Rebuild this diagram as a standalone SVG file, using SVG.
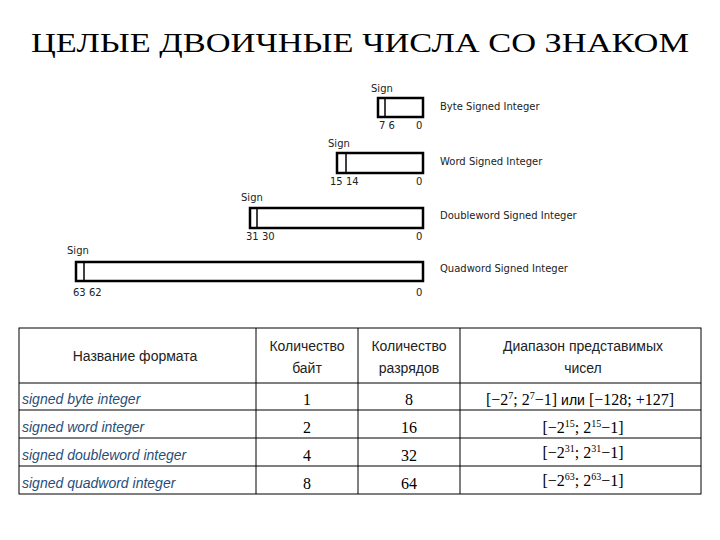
<svg xmlns="http://www.w3.org/2000/svg" width="720" height="540" viewBox="0 0 720 540">
<style>
.t{font-family:"Liberation Serif",serif;font-size:28px}
.s{font-family:"DejaVu Sans",sans-serif;font-size:10px;fill:#222}
.b{fill:#fff;stroke:#000;stroke-width:2.5}
.d{stroke:#000;stroke-width:1.5}
.h{font-family:"Liberation Sans",sans-serif;font-size:14px;fill:#222;text-anchor:middle}
.n{font-family:"Liberation Serif",serif;font-size:16px;text-anchor:middle}
.i{font-family:"Liberation Sans",sans-serif;font-size:14px;font-style:italic;fill:#1f4e79}
.g{stroke:#000;stroke-width:1;fill:none}
</style>
<rect width="720" height="540" fill="#fff"/>
<text class="t" x="360" y="52" text-anchor="middle" textLength="658" lengthAdjust="spacingAndGlyphs">ЦЕЛЫЕ ДВОИЧНЫЕ ЧИСЛА СО ЗНАКОМ</text>
<g id="byte">
<rect class="b" x="378" y="98" width="45" height="19"/><line class="d" x1="385" y1="98" x2="385" y2="117"/>
<text class="s" x="371" y="92">Sign</text><text class="s" x="379" y="129">7 6</text><text class="s" x="416" y="129">0</text>
<text class="s" x="440" y="110">Byte Signed Integer</text></g>
<g id="word">
<rect class="b" x="337" y="153" width="86" height="20"/><line class="d" x1="346" y1="153" x2="346" y2="173"/>
<text class="s" x="328" y="147">Sign</text><text class="s" x="330" y="185">15 14</text><text class="s" x="416" y="185">0</text>
<text class="s" x="440" y="165">Word Signed Integer</text></g>
<g id="dword">
<rect class="b" x="250" y="208" width="173" height="20"/><line class="d" x1="257" y1="208" x2="257" y2="228"/>
<text class="s" x="241" y="201">Sign</text><text class="s" x="246" y="240">31 30</text><text class="s" x="416" y="240">0</text>
<text class="s" x="440" y="219">Doubleword Signed Integer</text></g>
<g id="qword">
<rect class="b" x="76" y="262" width="347" height="19"/><line class="d" x1="84" y1="262" x2="84" y2="281"/>
<text class="s" x="67" y="254">Sign</text><text class="s" x="73" y="296">63 62</text><text class="s" x="416" y="296">0</text>
<text class="s" x="440" y="272">Quadword Signed Integer</text></g>
<g id="table">
<rect class="g" x="19" y="328" width="682" height="166"/>
<line class="g" x1="19" y1="383" x2="701" y2="383"/>
<line class="g" x1="19" y1="410" x2="701" y2="410"/>
<line class="g" x1="19" y1="438" x2="701" y2="438"/>
<line class="g" x1="19" y1="466" x2="701" y2="466"/>
<line class="g" x1="256" y1="328" x2="256" y2="494"/>
<line class="g" x1="358" y1="328" x2="358" y2="494"/>
<line class="g" x1="460" y1="328" x2="460" y2="494"/>
<text class="h" x="135" y="361">Название формата</text>
<text class="h" x="307" y="351">Количество</text><text class="h" x="307" y="373">байт</text>
<text class="h" x="409" y="351">Количество</text><text class="h" x="409" y="373">разрядов</text>
<text class="h" x="583" y="351">Диапазон   представимых</text><text class="h" x="583" y="373">чисел</text>
<text class="i" x="22" y="404">signed byte integer</text>
<text class="i" x="22" y="432">signed word integer</text>
<text class="i" x="22" y="460">signed doubleword integer</text>
<text class="i" x="22" y="488">signed quadword integer</text>
<text class="n" x="307" y="405">1</text><text class="n" x="409" y="405">8</text>
<text class="n" x="307" y="433">2</text><text class="n" x="409" y="433">16</text>
<text class="n" x="307" y="461">4</text><text class="n" x="409" y="461">32</text>
<text class="n" x="307" y="489">8</text><text class="n" x="409" y="489">64</text>
<text class="n" x="580" y="405">[−2<tspan font-size="10" dy="-6">7</tspan><tspan dy="6">; 2</tspan><tspan font-size="10" dy="-6">7</tspan><tspan dy="6">−1]  </tspan><tspan font-family="Liberation Sans" font-size="14">или</tspan> [−128; +127]</text>
<text class="n" x="583" y="433">[−2<tspan font-size="10" dy="-6">15</tspan><tspan dy="6">; 2</tspan><tspan font-size="10" dy="-6">15</tspan><tspan dy="6">−1]</tspan></text>
<text class="n" x="583" y="458">[−2<tspan font-size="10" dy="-6">31</tspan><tspan dy="6">; 2</tspan><tspan font-size="10" dy="-6">31</tspan><tspan dy="6">−1]</tspan></text>
<text class="n" x="583" y="486">[−2<tspan font-size="10" dy="-6">63</tspan><tspan dy="6">; 2</tspan><tspan font-size="10" dy="-6">63</tspan><tspan dy="6">−1]</tspan></text>
</g>
</svg>
